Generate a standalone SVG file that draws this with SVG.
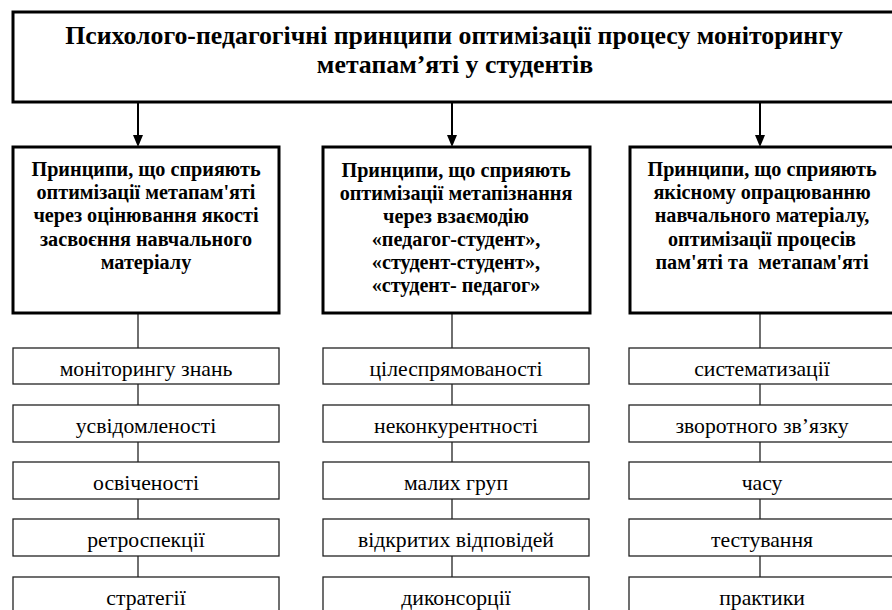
<svg xmlns="http://www.w3.org/2000/svg" width="892" height="610" viewBox="0 0 892 610">
<style>
.thick{fill:#fff;stroke:#000;stroke-width:3}
.thin{fill:#fff;stroke:#222;stroke-width:1.3}
text{font-family:'Liberation Serif','Times New Roman',serif;fill:#000;text-anchor:middle}
.title{font-weight:bold;font-size:25.8px}
.hdr{font-weight:bold;font-size:20.2px}
.item{font-size:21.7px}
.conn{stroke:#000;stroke-width:2;fill:none}
.link{stroke:#222;stroke-width:1.3;fill:none}
</style>
<rect width="892" height="610" fill="#fff"/>
<g id="connectors">
<line class="conn" x1="138" y1="102" x2="138" y2="136"/>
<path d="M133,135 L143,135 L138,147 Z" fill="#000"/>
<line class="conn" x1="452" y1="102" x2="452" y2="136"/>
<path d="M447,135 L457,135 L452,147 Z" fill="#000"/>
<line class="conn" x1="760" y1="102" x2="760" y2="136"/>
<path d="M755,135 L765,135 L760,147 Z" fill="#000"/>
<line class="link" x1="138" y1="313" x2="138" y2="577"/>
<line class="link" x1="452" y1="313" x2="452" y2="577"/>
<line class="link" x1="760" y1="313" x2="760" y2="577"/>
</g>
<g id="root">
<rect class="thick" x="13" y="12" width="884" height="90"/>
<text class="title" x="454" y="44">Психолого-педагогічні принципи оптимізації процесу моніторингу</text>
<text class="title" x="455" y="73">метапам’яті у студентів</text>
</g>
<g id="cat1">
<rect class="thick" x="13" y="147" width="266" height="166"/>
<text class="hdr" x="146" y="176">Принципи, що сприяють</text>
<text class="hdr" x="146" y="199">оптимізації метапам'яті</text>
<text class="hdr" x="146" y="222">через оцінювання якості</text>
<text class="hdr" x="146" y="246">засвоєння навчального</text>
<text class="hdr" x="146" y="269">матеріалу</text>
</g>
<g id="cat2">
<rect class="thick" x="323" y="147" width="267" height="166"/>
<text class="hdr" x="456" y="177">Принципи, що сприяють</text>
<text class="hdr" x="456" y="200">оптимізації метапізнання</text>
<text class="hdr" x="456" y="223">через взаємодію</text>
<text class="hdr" x="456" y="246">«педагог-студент»,</text>
<text class="hdr" x="456" y="269">«студент-студент»,</text>
<text class="hdr" x="456" y="292">«студент- педагог»</text>
</g>
<g id="cat3">
<rect class="thick" x="630" y="147" width="266" height="166"/>
<text class="hdr" x="762" y="176">Принципи, що сприяють</text>
<text class="hdr" x="762" y="199">якісному опрацюванню</text>
<text class="hdr" x="762" y="222">навчального матеріалу,</text>
<text class="hdr" x="762" y="246">оптимізації процесів</text>
<text class="hdr" x="762" y="269" xml:space="preserve">пам'яті та  метапам'яті</text>
</g>
<g id="c1i1"><rect class="thin" x="13" y="348" width="266" height="36"/><text class="item" x="146" y="376">моніторингу знань</text></g>
<g id="c1i2"><rect class="thin" x="13" y="405" width="266" height="37"/><text class="item" x="146" y="433">усвідомленості</text></g>
<g id="c1i3"><rect class="thin" x="13" y="462" width="266" height="37"/><text class="item" x="146" y="490">освіченості</text></g>
<g id="c1i4"><rect class="thin" x="13" y="519" width="266" height="37"/><text class="item" x="146" y="547">ретроспекції</text></g>
<g id="c1i5"><rect class="thin" x="13" y="577" width="266" height="40"/><text class="item" x="146" y="605">стратегії</text></g>
<g id="c2i1"><rect class="thin" x="323" y="348" width="266" height="36"/><text class="item" x="456" y="376">цілеспрямованості</text></g>
<g id="c2i2"><rect class="thin" x="323" y="405" width="266" height="37"/><text class="item" x="456" y="433">неконкурентності</text></g>
<g id="c2i3"><rect class="thin" x="323" y="462" width="266" height="37"/><text class="item" x="456" y="490">малих груп</text></g>
<g id="c2i4"><rect class="thin" x="323" y="519" width="266" height="37"/><text class="item" x="456" y="547">відкритих відповідей</text></g>
<g id="c2i5"><rect class="thin" x="323" y="577" width="266" height="40"/><text class="item" x="456" y="605">диконсорції</text></g>
<g id="c3i1"><rect class="thin" x="629" y="348" width="266" height="36"/><text class="item" x="762" y="376">систематизації</text></g>
<g id="c3i2"><rect class="thin" x="629" y="405" width="266" height="37"/><text class="item" x="762" y="433">зворотного зв’язку</text></g>
<g id="c3i3"><rect class="thin" x="629" y="462" width="266" height="37"/><text class="item" x="762" y="490">часу</text></g>
<g id="c3i4"><rect class="thin" x="629" y="519" width="266" height="37"/><text class="item" x="762" y="547">тестування</text></g>
<g id="c3i5"><rect class="thin" x="629" y="577" width="266" height="40"/><text class="item" x="762" y="605">практики</text></g>
</svg>
